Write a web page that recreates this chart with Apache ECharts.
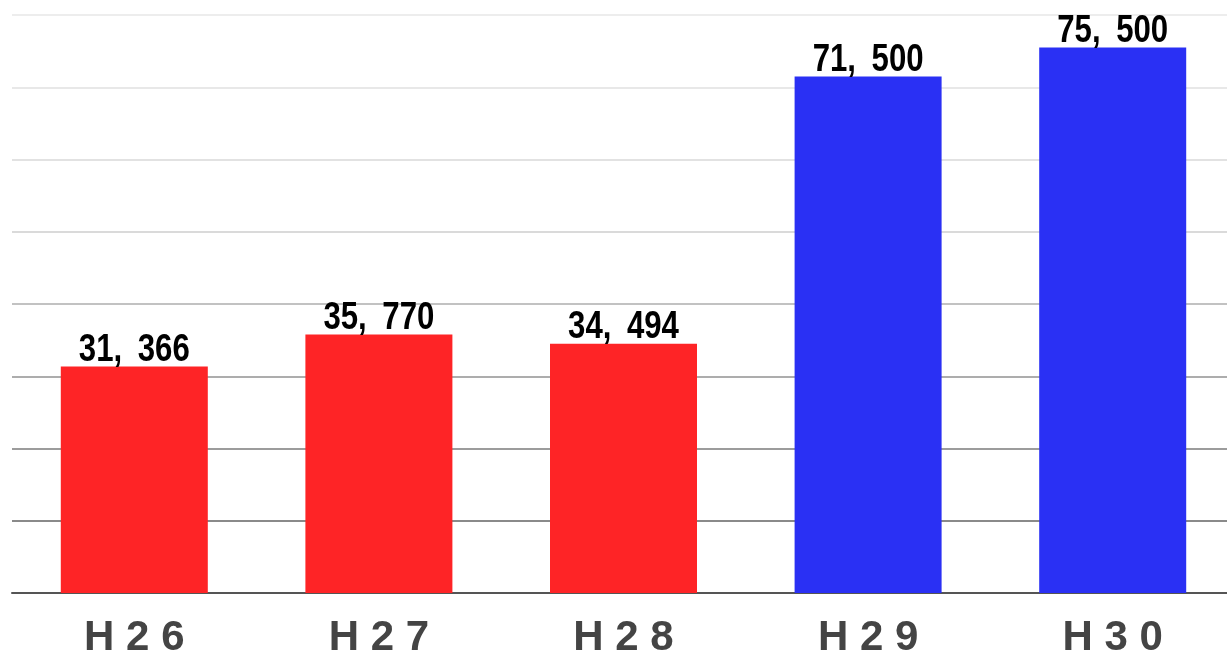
<!DOCTYPE html>
<html><head><meta charset="utf-8">
<script src="https://cdn.jsdelivr.net/npm/echarts@6/dist/echarts.min.js"></script>
<style>html,body{margin:0;padding:0;background:#fff}#c{width:1227px;height:657px}</style>
</head><body><div id="c"></div>
<script>
const categories = ['H26', 'H27', 'H28', 'H29', 'H30'];
const values = [31366, 35770, 34494, 71500, 75500];
const barColors = ['#fe2426', '#fe2426', '#fe2426', '#2a30f4', '#2a30f4'];
const gridColors = ['#555555', '#8a8a8a', '#9c9c9c', '#adadad', '#c2c2c2', '#dadada', '#e2e2e2', '#e8e8e8', '#ededed'];

function fmt(v) {
  return v.toLocaleString('en-US').replace(',', ',\u2002');
}

const chart = echarts.init(document.getElementById('c'));
chart.setOption({
  animation: false,
  grid: { left: 12, top: 15, width: 1223, bottom: 64, containLabel: false, outerBoundsMode: 'none' },
  xAxis: {
    type: 'category',
    data: categories,
    axisLine: { lineStyle: { color: '#555', width: 2 } },
    axisTick: { show: false },
    axisLabel: {
      margin: 24,
      color: '#444',
      fontSize: 42,
      fontWeight: 'bold',
      fontFamily: 'Liberation Sans, Arial, sans-serif',
      formatter: v => v.split('').join(' ')
    }
  },
  yAxis: {
    type: 'value',
    min: 0, max: 80000, interval: 10000,
    axisLabel: { show: false },
    axisLine: { show: false },
    axisTick: { show: false },
    splitLine: { lineStyle: { color: gridColors, width: 2 } }
  },
  series: [{
    type: 'bar',
    barWidth: 147,
    data: values.map((v, i) => ({ value: v, itemStyle: { color: barColors[i] } }))
  }, {
    type: 'custom',
    z: 10,
    clip: false,
    data: values.map((v, i) => [i, v]),
    renderItem: (params, api) => {
      const p = api.coord([api.value(0), api.value(1)]);
      return {
        type: 'text',
        x: p[0], y: p[1] + 3,
        scaleX: 0.82,
        style: {
          text: fmt(api.value(1)),
          x: 0, y: 0,
          align: 'center',
          verticalAlign: 'bottom',
          fill: '#000',
          font: 'bold 38px "Liberation Sans", Arial, sans-serif'
        }
      };
    }
  }]
});
</script></body></html>
